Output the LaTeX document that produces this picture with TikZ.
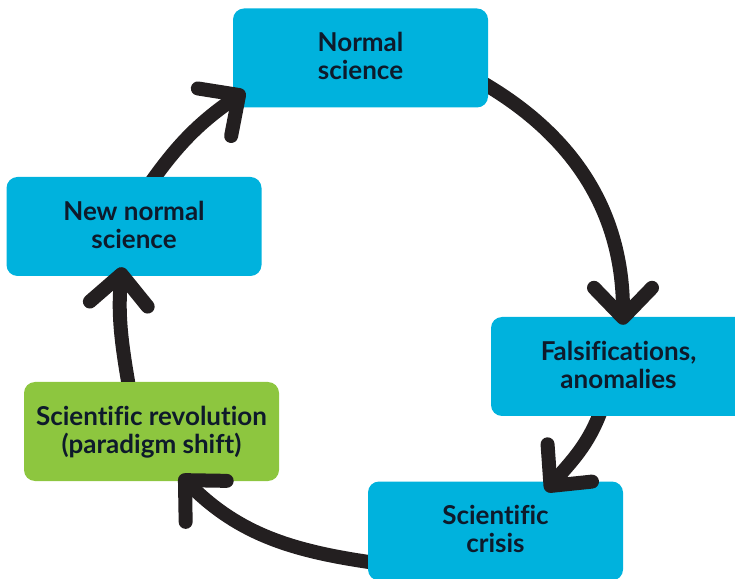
\documentclass[tikz,border=0pt]{standalone}
\usepackage{fontspec}
\setmainfont{Lato}[Ligatures=NoCommon]
\usetikzlibrary{arrows.meta}
\definecolor{boxcyan}{HTML}{00B2DD}
\definecolor{boxgreen}{HTML}{8DC63F}
\definecolor{ink}{HTML}{231F20}
\definecolor{labelink}{HTML}{0E1A2B}

\begin{document}
\begin{tikzpicture}[x=1pt,y=1pt,
  stage/.style={fill=boxcyan, rounded corners=11pt, minimum width=255pt,
    minimum height=99pt, inner sep=0pt, align=center, text=labelink,
    text depth=4pt,
    font=\fontsize{26}{28}\selectfont\bfseries},
  shiftstage/.style={stage, fill=boxgreen},
  cyclearrow/.style={draw=ink, line width=14pt,
    -{Straight Barb[length=30pt,width=58pt,round]}}
]
\useasboundingbox (0,0) rectangle (735,578);

% the five stages of the cycle
\node[stage] (ns) at (360.5,520) {Normal\\science};
\node[stage] (fa) at (618.5,211.5) {Falsifications,\\anomalies};
\node[stage] (cr) at (495.5,47) {Scientific\\crisis};
\node[shiftstage] (rv) at (151.5,146.5) {Scientific revolution\\(paradigm shift)};
\node[stage] (nn) at (134,351.5) {New normal\\science};

% connectors: each tail is hidden inside its source box by clipping that box out
\begin{scope}
  \clip (-20,-20) rectangle (760,600) (ns.north west) rectangle (ns.south east);
  \draw[cyclearrow] ([xshift=-7pt,yshift=-24pt]ns.east)
    to[out=-30,in=90] ([xshift=4.5pt,yshift=-8pt]fa.north);
\end{scope}
\begin{scope}
  \clip (-20,-20) rectangle (760,600) (fa.north west) rectangle (fa.south east);
  \draw[cyclearrow] ([xshift=-17pt,yshift=7pt]fa.south)
    to[out=-110,in=50] ([xshift=50.5pt,yshift=-10pt]cr.north);
\end{scope}
\begin{scope}
  \clip (-20,-20) rectangle (760,600) (cr.north west) rectangle (cr.south east);
  \draw[cyclearrow] ([xshift=8pt,yshift=-32pt]cr.west)
    to[out=172,in=-45] ([xshift=28.5pt,yshift=6pt]rv.south);
\end{scope}
\begin{scope}
  \clip (-20,-20) rectangle (760,600) (rv.north west) rectangle (rv.south east);
  \draw[cyclearrow] ([xshift=-22pt,yshift=-8pt]rv.north)
    to[out=100,in=-95] ([xshift=-12pt,yshift=9pt]nn.south);
\end{scope}
\begin{scope}
  \clip (-20,-20) rectangle (760,600) (nn.north west) rectangle (nn.south east);
  \draw[cyclearrow] ([xshift=16pt,yshift=-7pt]nn.north)
    to[out=55,in=-145] ([xshift=12pt,yshift=-33pt]ns.west);
\end{scope}
\end{tikzpicture}
\end{document}
